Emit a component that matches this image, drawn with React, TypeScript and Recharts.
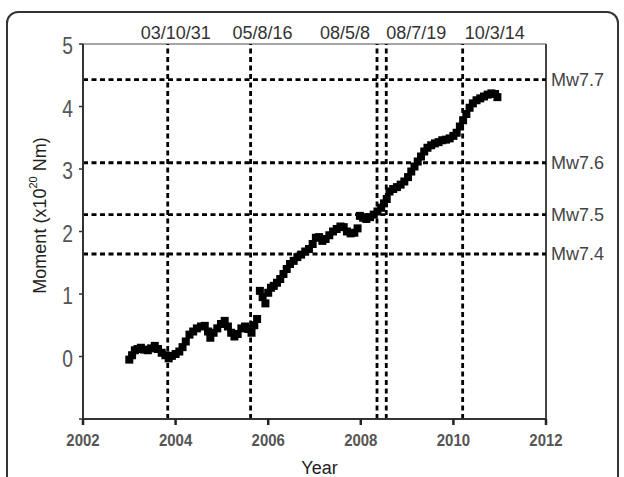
import { ScatterChart, Scatter, XAxis, YAxis, ReferenceLine } from "recharts";

// cumulative moment release, sampled along the time axis
const years = [
  2003.0, 2003.06, 2003.12, 2003.18, 2003.25, 2003.32, 2003.4, 2003.47, 2003.55, 2003.62,
  2003.7, 2003.78, 2003.85, 2003.92, 2004.0, 2004.08, 2004.15, 2004.22, 2004.3, 2004.38,
  2004.46, 2004.55, 2004.63, 2004.7, 2004.75, 2004.82, 2004.9, 2004.98, 2005.06, 2005.13,
  2005.2, 2005.27, 2005.34, 2005.42, 2005.5, 2005.57, 2005.64, 2005.7, 2005.76, 2005.82,
  2005.88, 2005.94, 2006.0, 2006.06, 2006.12, 2006.19, 2006.26, 2006.33, 2006.4, 2006.47,
  2006.55, 2006.63, 2006.71, 2006.8, 2006.88, 2006.96, 2007.03, 2007.1, 2007.17, 2007.24,
  2007.32, 2007.4, 2007.48, 2007.56, 2007.63, 2007.7, 2007.78, 2007.86, 2007.93, 2007.98,
  2008.05, 2008.12, 2008.2, 2008.28, 2008.36, 2008.44, 2008.5, 2008.56, 2008.62, 2008.7,
  2008.78, 2008.86, 2008.94, 2009.02, 2009.09, 2009.16, 2009.23, 2009.3, 2009.37, 2009.44,
  2009.52, 2009.6, 2009.68, 2009.76, 2009.84, 2009.92, 2010.0, 2010.07, 2010.14, 2010.21,
  2010.28, 2010.35, 2010.42, 2010.5, 2010.58, 2010.66, 2010.74, 2010.82, 2010.9, 2010.95,
];
const moments = [
  -0.05, 0.02, 0.1, 0.12, 0.14, 0.11, 0.1, 0.13, 0.17, 0.12,
  0.06, 0.02, -0.03, 0.01, 0.04, 0.08, 0.15, 0.24, 0.35, 0.4,
  0.45, 0.48, 0.49, 0.4, 0.3, 0.38, 0.45, 0.52, 0.57, 0.48,
  0.38, 0.32, 0.36, 0.45, 0.48, 0.44, 0.38, 0.5, 0.6, 1.05,
  0.95, 0.85, 1.02, 1.1, 1.13, 1.18, 1.24, 1.32, 1.4, 1.48,
  1.53, 1.59, 1.63, 1.68, 1.72, 1.8, 1.9, 1.91, 1.85, 1.88,
  1.94, 2.0, 2.04, 2.08, 2.07, 2.0, 1.97, 1.98, 2.05, 2.25,
  2.22, 2.2, 2.23, 2.27, 2.32, 2.38, 2.45, 2.52, 2.64, 2.68,
  2.71, 2.75, 2.8, 2.87, 2.96, 3.04, 3.12, 3.2, 3.28, 3.34,
  3.38, 3.41, 3.43, 3.46, 3.47, 3.49, 3.53, 3.58, 3.68, 3.78,
  3.88, 3.98, 4.05, 4.1, 4.13, 4.16, 4.19, 4.21, 4.2, 4.15,
];

// large events (date label, decimal year)
const quakeLabels = ["03/10/31", "05/8/16", "08/5/8", "08/7/19", "10/3/14"];
const quakeYears = [2003.83, 2005.62, 2008.35, 2008.55, 2010.2];

// moment level of each magnitude
const mwLabels = ["Mw7.7", "Mw7.6", "Mw7.5", "Mw7.4"];
const mwMoments = [4.43, 3.1, 2.27, 1.64];

const xTicks = [2002, 2004, 2006, 2008, 2010, 2012];
const yTicks = [-1, 0, 1, 2, 3, 4, 5];

// horizontal nudge of each date label relative to its line
const quakeLabelNudge = [8, 12, -32, 30, 32];

const data = years.map((year, i) => ({ year, moment: moments[i] }));

const FONT = "'Liberation Sans', Arial, sans-serif";
const dash = "5 3.5";

const Square = (props: any) => (
  <rect x={props.cx - 4} y={props.cy - 4} width={8} height={8} fill="#000" />
);

const YTick = (props: any) => {
  const { x, y, payload } = props;
  if (payload.value === -1) return null;
  return (
    <text
      transform={`translate(${x},${y + 2}) scale(0.8,1)`}
      textAnchor="end"
      dominantBaseline="central"
      fontSize={24}
      fill="#555"
      fontFamily={FONT}
    >
      {payload.value}
    </text>
  );
};

const XTick = (props: any) => {
  const { x, y, payload } = props;
  return (
    <text
      transform={`translate(${x},${y + 19}) scale(0.88,1)`}
      textAnchor="middle"
      fontSize={17}
      fontWeight="bold"
      fill="#555"
      fontFamily={FONT}
    >
      {payload.value}
    </text>
  );
};

const YLabel = (props: any) => {
  const { x, y, height } = props.viewBox;
  const cx = x - 3;
  const cy = y + height / 2 - 16;
  return (
    <text
      transform={`translate(${cx},${cy}) rotate(-90)`}
      textAnchor="middle"
      dominantBaseline="central"
      fontSize={18}
      fill="#222"
      fontFamily={FONT}
    >
      Moment (x10
      <tspan fontSize={11} dy={-7}>
        20
      </tspan>
      <tspan dy={7}> Nm)</tspan>
    </text>
  );
};

const XLabel = (props: any) => {
  const { x, width } = props.viewBox;
  return (
    <text x={x + width / 2 + 5} y={474} textAnchor="middle" fontSize={18} fill="#222" fontFamily={FONT}>
      Year
    </text>
  );
};

const quakeLabel = (i: number) => (props: any) => {
  const { x } = props.viewBox;
  return (
    <text x={x + quakeLabelNudge[i]} y={39} textAnchor="middle" fontSize={18} fill="#333" fontFamily={FONT}>
      {quakeLabels[i]}
    </text>
  );
};

const mwLabel = (i: number) => (props: any) => {
  const { x, y, width } = props.viewBox;
  return (
    <text
      x={x + width + 5}
      y={y}
      dominantBaseline="central"
      fontSize={18}
      fill="#444"
      fontFamily={FONT}
    >
      {mwLabels[i]}
    </text>
  );
};

export default function App() {
  return (
    <div
      style={{
        position: "fixed",
        left: 0,
        top: 0,
        width: 624,
        height: 477,
        background: "#fff",
        overflow: "hidden",
      }}
    >
      <div
        style={{
          position: "absolute",
          left: 6,
          top: 11,
          width: 613,
          height: 540,
          border: "2px solid #333",
          borderRadius: 12,
          boxSizing: "border-box",
        }}
      />
      <div style={{ position: "absolute", left: 0, top: 0 }}>
        <ScatterChart width={624} height={477} margin={{ top: 44, right: 78, bottom: 28, left: 43 }}>
          <XAxis
            type="number"
            dataKey="year"
            domain={[2002, 2012]}
            ticks={xTicks}
            allowDecimals={false}
            height={30}
            tickSize={6}
            tick={<XTick />}
            axisLine={{ stroke: "#333", strokeWidth: 2 }}
            tickLine={{ stroke: "#222", strokeWidth: 2.5 }}
            label={<XLabel />}
          />
          <YAxis
            type="number"
            dataKey="moment"
            domain={[-1, 5]}
            ticks={yTicks}
            width={40}
            tickSize={4}
            tickMargin={6}
            tick={<YTick />}
            axisLine={{ stroke: "#333", strokeWidth: 2 }}
            tickLine={{ stroke: "#333", strokeWidth: 1.5 }}
            label={<YLabel />}
          />
          <ReferenceLine y={5} stroke="#888" strokeWidth={1.5} />
          <ReferenceLine x={2012} stroke="#444" strokeWidth={2} />
          {mwMoments.map((m, i) => (
            <ReferenceLine
              key={mwLabels[i]}
              y={m}
              stroke="#000"
              strokeWidth={2.8}
              strokeDasharray={dash}
              label={mwLabel(i)}
            />
          ))}
          {quakeYears.map((yr, i) => (
            <ReferenceLine
              key={quakeLabels[i]}
              x={yr}
              stroke="#000"
              strokeWidth={2.8}
              strokeDasharray={dash}
              label={quakeLabel(i)}
            />
          ))}
          <Scatter data={data} shape={Square} isAnimationActive={false} />
        </ScatterChart>
      </div>
    </div>
  );
}
